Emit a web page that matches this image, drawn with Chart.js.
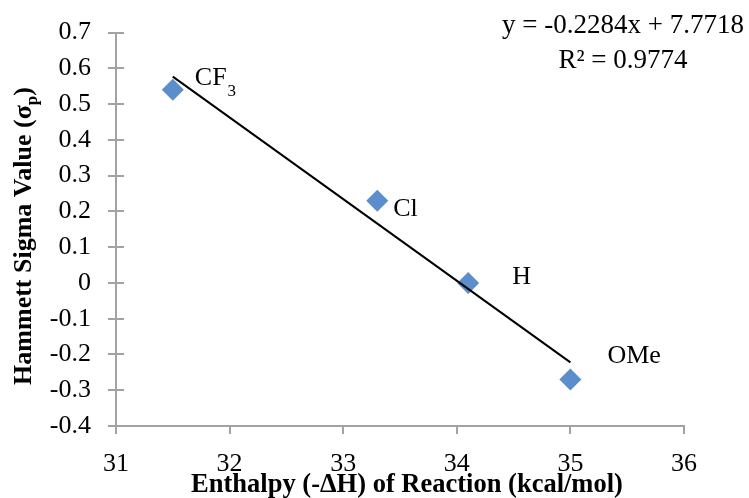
<!DOCTYPE html>
<html>
<head>
<meta charset="utf-8">
<script src="https://cdn.jsdelivr.net/npm/chart.js@4.4.1/dist/chart.umd.min.js"></script>
<style>
html,body{margin:0;padding:0;background:#fff;}
#wrap{width:749px;height:498px;}
</style>
</head>
<body>
<div id="wrap"><canvas id="c" width="749" height="498"></canvas></div>
<script>
// ---- data ----
const substituents = ['CF3', 'Cl', 'H', 'OMe'];
const enthalpy = [31.5, 33.3, 34.1, 35.0];
const sigmaP = [0.54, 0.23, 0.0, -0.27];
const trendX = [31.5, 35.0];
const trendY = [0.577, -0.222];
const equationLines = ['y = -0.2284x + 7.7718', 'R² = 0.9774'];
const xTicks = [31, 32, 33, 34, 35, 36];
const yTicks = [-0.4, -0.3, -0.2, -0.1, 0, 0.1, 0.2, 0.3, 0.4, 0.5, 0.6, 0.7];
const xTitle = 'Enthalpy (-ΔH) of Reaction (kcal/mol)';
const yTitle = ['Hammett Sigma Value (σ', 'p', ')'];

const AXIS = '#a3a3a3';
const SERIF = '"Liberation Serif", "Times New Roman", serif';

// label placement relative to point pixel (dx, dy to baseline)
const labelOffsets = [[22, -5], [16, 15], [44, 1], [37, -17]];

const overlay = {
  id: 'overlay',
  afterDraw(chart) {
    const ctx = chart.ctx;
    const xs = chart.scales.x, ys = chart.scales.y;
    ctx.save();
    // inner tick marks on y axis (cross style)
    ctx.strokeStyle = AXIS; ctx.lineWidth = 2;
    yTicks.forEach(v => {
      const py = Math.round(ys.getPixelForValue(v));
      ctx.beginPath(); ctx.moveTo(xs.left, py); ctx.lineTo(xs.left + 8, py); ctx.stroke();
    });
    // point labels
    ctx.fillStyle = '#000';
    ctx.textBaseline = 'alphabetic';
    ctx.textAlign = 'left';
    substituents.forEach((s, i) => {
      const px = xs.getPixelForValue(enthalpy[i]) + labelOffsets[i][0];
      const py = ys.getPixelForValue(sigmaP[i]) + labelOffsets[i][1];
      ctx.font = '26px ' + SERIF;
      if (s === 'CF3') {
        ctx.fillText('CF', px, py);
        const w = ctx.measureText('CF').width;
        ctx.font = '17px ' + SERIF;
        ctx.fillText('3', px + w + 1, py + 11);
      } else {
        ctx.fillText(s, px, py);
      }
    });
    // equation
    ctx.font = '27px ' + SERIF;
    ctx.textAlign = 'center';
    ctx.fillText(equationLines[0], 623, 33);
    ctx.fillText(equationLines[1], 623, 68);
    // x title
    ctx.font = 'bold 26.5px ' + SERIF;
    ctx.fillText(xTitle, 407, 492);
    // y title (rotated, with subscript)
    ctx.translate(31, 236);
    ctx.rotate(-Math.PI / 2);
    ctx.font = 'bold 26px ' + SERIF;
    const w0 = ctx.measureText(yTitle[0]).width;
    ctx.font = 'bold 17px ' + SERIF;
    const w1 = ctx.measureText(yTitle[1]).width;
    ctx.font = 'bold 26px ' + SERIF;
    const w2 = ctx.measureText(yTitle[2]).width;
    const total = w0 + w1 + w2;
    let x0 = -total / 2;
    ctx.textAlign = 'left';
    ctx.fillText(yTitle[0], x0, 0);
    ctx.font = 'bold 17px ' + SERIF;
    ctx.fillText(yTitle[1], x0 + w0, 6);
    ctx.font = 'bold 26px ' + SERIF;
    ctx.fillText(yTitle[2], x0 + w0 + w1, 0);
    ctx.restore();
  }
};

new Chart(document.getElementById('c'), {
  type: 'scatter',
  data: {
    datasets: [
      {
        label: 'Linear fit',
        data: trendX.map((x, i) => ({x, y: trendY[i]})),
        showLine: true,
        borderColor: '#000',
        borderWidth: 2,
        pointRadius: 0,
        fill: false
      },
      {
        label: 'Hammett',
        data: enthalpy.map((x, i) => ({x, y: sigmaP[i]})),
        pointStyle: 'rectRot',
        pointRadius: 11,
        pointHoverRadius: 11,
        backgroundColor: 'rgb(90,142,204)',
        borderColor: 'rgb(90,142,204)',
        borderWidth: 0
      }
    ]
  },
  options: {
    responsive: false,
    animation: false,
    devicePixelRatio: 1,
    layout: { padding: { left: 0, top: 29, right: 65, bottom: 0 } },
    plugins: { legend: { display: false }, tooltip: { enabled: false } },
    scales: {
      x: {
        type: 'linear', min: 31, max: 36,
        afterBuildTicks: s => { s.ticks = xTicks.map(v => ({value: v})); },
        afterFit: s => { s.height = 72; },
        grid: { drawOnChartArea: false, color: AXIS, lineWidth: 2, tickLength: 8, tickColor: AXIS },
        border: { color: AXIS, width: 2 },
        ticks: { color: '#000', font: { family: SERIF, size: 26 }, padding: 15, maxRotation: 0 }
      },
      y: {
        type: 'linear', min: -0.4, max: 0.7,
        afterBuildTicks: s => { s.ticks = yTicks.map(v => ({value: v})); },
        afterFit: s => { s.width = 116; },
        grid: { drawOnChartArea: false, color: AXIS, lineWidth: 2, tickLength: 8, tickColor: AXIS },
        border: { color: AXIS, width: 2 },
        ticks: {
          color: '#000', font: { family: SERIF, size: 26 }, padding: 17,
          callback: v => (Math.round(v * 10) / 10).toString()
        }
      }
    }
  },
  plugins: [overlay]
});
</script>
</body>
</html>
